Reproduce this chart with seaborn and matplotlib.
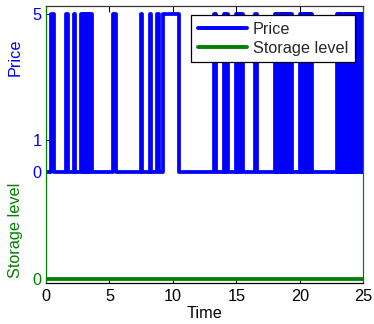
import numpy as np
import pandas as pd
import matplotlib
matplotlib.use("Agg")
import matplotlib.pyplot as plt
import seaborn as sns

# ---- data ----
t_start, t_end = 0.0, 25.0
price_on = [0.40, 1.55, 2.18,
            2.78, 2.96, 3.14, 3.32, 3.50,
            5.25, 7.50, 8.18, 8.78, 9.24,
            13.22, 14.04, 14.22, 14.96, 15.16, 15.36, 16.50,
            18.05, 18.22, 18.40, 18.58, 18.75, 18.93, 19.10, 19.27,
            20.00, 20.18, 20.36, 20.55, 20.74, 20.90,
            22.90, 23.08, 23.26, 23.45, 23.62, 23.80, 23.98, 24.16, 24.34, 24.52, 24.70, 24.86]
price_off = [0.60, 1.72, 2.32,
             2.88, 3.06, 3.24, 3.42, 3.66,
             5.48, 7.60, 8.30, 8.92, 10.44,
             13.38, 14.12, 14.33, 15.08, 15.28, 15.50, 16.60,
             18.14, 18.31, 18.49, 18.66, 18.84, 18.99, 19.19, 19.40,
             20.09, 20.27, 20.46, 20.64, 20.82, 20.99,
             22.99, 23.17, 23.35, 23.53, 23.71, 23.89, 24.07, 24.25, 24.43, 24.61, 24.78, 25.00]
price_high, price_low = 5, 0
storage_time = [0.0, 25.0]
storage_level = [0.0, 0.0]

price_yticks = [0, 1, 5]
storage_yticks = [0]
x_ticks = [0, 5, 10, 15, 20, 25]

# build step table
times = [t_start]
vals = [price_low]
for a, b in zip(price_on, price_off):
    times += [a, b]
    vals += [price_high, price_low]
if times[-1] < t_end:
    times.append(t_end)
    vals.append(vals[-1])
price_df = pd.DataFrame({"Time": times, "Price": vals})
storage_df = pd.DataFrame({"Time": storage_time, "Storage level": storage_level})

# ---- style ----
sns.set_style("white")
plt.rcParams["font.family"] = ["Liberation Sans", "DejaVu Sans"]
FS = 11.7
BLUE = (0, 0, 1)
GREEN = (0, 0.5, 0)

fig = plt.figure(figsize=(3.74, 3.24), dpi=100)
ax = fig.add_axes([46/374, (324-282.5)/324, (363.3-46)/374, (282.5-6)/324])
ax2 = ax.twinx()

sns.lineplot(data=price_df, x="Time", y="Price", ax=ax, color=BLUE, lw=2.7,
             drawstyle="steps-post", estimator=None, sort=False, label="Price", legend=False)
sns.lineplot(data=storage_df, x="Time", y="Storage level", ax=ax2, color=GREEN, lw=2.7,
             estimator=None, sort=False, label="Storage level", legend=False)

ax.set_xlim(0, 25)
ax.set_ylim(-3.50, 5.25)
ax2.set_ylim(-0.1, 7.8)

ax.set_xticks(x_ticks)
ax.set_yticks(price_yticks)
ax2.set_yticks(storage_yticks)

ax.tick_params(axis="x", direction="in", length=4, width=0.8, top=True, bottom=True,
               labelsize=FS, pad=5, colors="black")
ax.tick_params(axis="y", direction="in", length=4, width=0.8, left=True, right=False,
               labelsize=FS, pad=3, colors=BLUE, labelcolor=BLUE)
ax2.yaxis.set_ticks_position("left")
ax2.yaxis.set_label_position("left")
ax2.tick_params(axis="y", direction="in", length=4, width=0.8, left=True, right=False,
                labelsize=FS, pad=3, colors=GREEN, labelcolor=GREEN)

ax.set_xlabel("Time", fontsize=FS, color="black", labelpad=1)
ax.set_ylabel("Price", fontsize=FS, color=BLUE)
ax.yaxis.set_label_coords(-0.073, (282.5-57)/276.5)
ax2.set_ylabel("Storage level", fontsize=FS, color=GREEN)
ax2.yaxis.set_label_coords(-0.073, (282.5-230)/276.5)

for a in (ax, ax2):
    for s in a.spines.values():
        s.set_linewidth(0.8)
    a.spines["top"].set_color("#333333")
    a.spines["bottom"].set_color("black")
    a.spines["left"].set_color(GREEN)
    a.spines["right"].set_color(GREEN)

h1, l1 = ax.get_legend_handles_labels()
h2, l2 = ax2.get_legend_handles_labels()
leg = ax2.legend(h1 + h2, l1 + l2, loc="upper right",
                 bbox_to_anchor=((355-46)/317.3, (282.5-15)/276.5), borderaxespad=0,
                 fontsize=FS, frameon=True, fancybox=False, framealpha=1,
                 edgecolor="black", handlelength=3.0, handletextpad=0.4,
                 labelspacing=0.25, borderpad=0.4)
leg.get_frame().set_linewidth(0.9)
for ln in leg.get_lines():
    ln.set_linewidth(2.8)

fig.savefig("out.png", dpi=100)
